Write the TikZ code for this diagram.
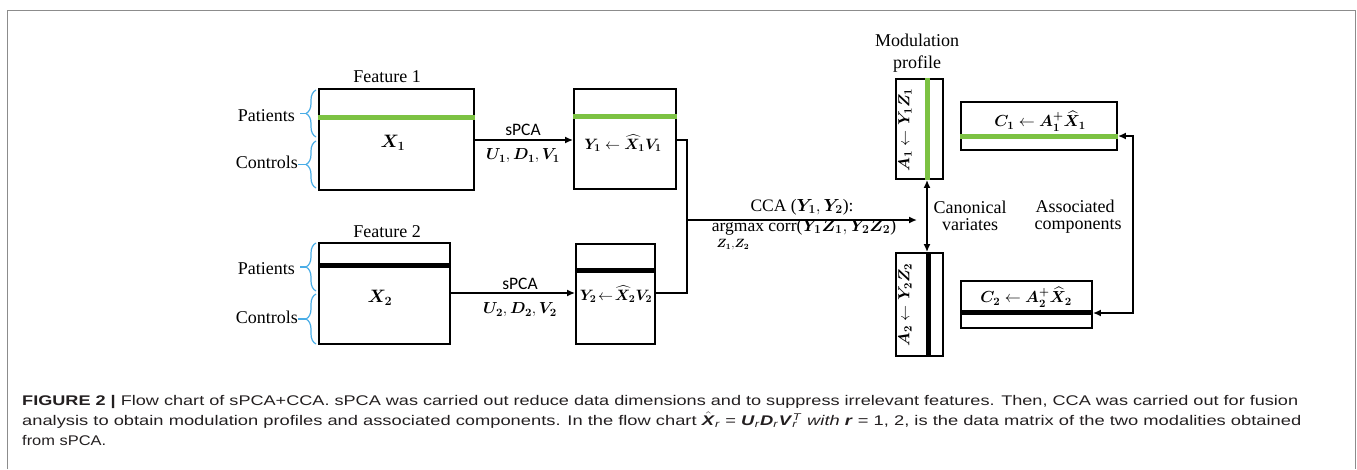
\RequirePackage{fix-cm}
\documentclass[tikz,border=0pt]{standalone}
\usepackage{amsmath}
\usepackage{bm}
\usepackage{graphicx}
\usepackage{fontspec}
\setmainfont{Liberation Serif}
\newfontfamily\capfont{Liberation Sans}
\newfontfamily\spcafont{Carlito}
\usetikzlibrary{arrows.meta,decorations.pathreplacing,calc}
\definecolor{bargreen}{HTML}{7CC243}
\definecolor{braceblue}{HTML}{4AADE6}
\definecolor{framegray}{HTML}{8C8C8C}
\definecolor{captext}{HTML}{231F20}
\begin{document}
\begin{tikzpicture}[x=1pt,y=-1pt,
  box/.style={draw, line width=1.8pt, inner sep=0pt},
  gbar/.style={bargreen, line width=5pt},
  kbar/.style={black, line width=5pt},
  conn/.style={line width=1.6pt},
  onearr/.style={-{Latex[length=8pt,width=7pt]}},
  twoarr/.style={{Latex[length=8pt,width=7pt]}-{Latex[length=8pt,width=7pt]}},
  lbl/.style={font=\fontsize{18}{20}\selectfont, inner sep=0pt},
  mth/.style={font=\fontsize{16}{18}\selectfont, inner sep=0pt},
  spca/.style={font=\spcafont\fontsize{17.5}{19}\selectfont, inner sep=0pt},
  bracestyle/.style={braceblue, line width=1.2pt, decorate, decoration={brace, amplitude=10pt}},
  brtick/.style={braceblue, line width=1.2pt},
  captxt/.style={font=\capfont\fontsize{14}{16}\selectfont, text=captext, inner sep=0pt, anchor=base west}]
\useasboundingbox (0,0) rectangle (1357,469);
% frame
\draw[framegray, line width=1.5pt] (7.5,469) -- (7.5,10.5) -- (1355.5,10.5) -- (1355.5,469);

% boxes
\node[box, minimum width=155pt, minimum height=101pt] (x1) at (396.5,139.5) {};
\node[box, minimum width=131pt, minimum height=101pt] (x2) at (384.5,293.5) {};
\node[box, minimum width=102pt, minimum height=100pt] (y1) at (625,139) {};
\node[box, minimum width=79pt, minimum height=100pt] (y2) at (615.5,294) {};
\node[box, minimum width=47pt, minimum height=100pt] (a1) at (919.5,129) {};
\node[box, minimum width=47pt, minimum height=103pt] (a2) at (919.5,304.5) {};
\node[box, minimum width=156pt, minimum height=48pt] (c1) at (1039,126) {};
\node[box, minimum width=131pt, minimum height=47pt] (c2) at (1026.5,304.5) {};

% bars
\draw[gbar] (x1.west |- 0,117) -- (x1.east |- 0,117);
\draw[gbar] (y1.west |- 0,116) -- (y1.east |- 0,116);
\draw[kbar] (x2.west |- 0,265) -- (x2.east |- 0,265);
\draw[kbar] (y2.west |- 0,270) -- (y2.east |- 0,270);
\draw[gbar] (a1.north -| 927,0) -- (a1.south -| 927,0);
\draw[kbar] (a2.north -| 928,0) -- (a2.south -| 928,0);
\draw[gbar] (c1.west |- 0,136) -- (c1.east |- 0,136);
\draw[kbar] (c2.west |- 0,312) -- (c2.east |- 0,312);

% labels left
\node[lbl, anchor=base] (f1) at (387,82.5) {Feature 1};
\node[lbl, anchor=base] (f2) at (387,237) {Feature 2};
\node[lbl, anchor=base east] (pat1) at (295,121.5) {Patients};
\node[lbl, anchor=base east] (con1) at (298,168) {Controls};
\node[lbl, anchor=base east] (pat2) at (295,274) {Patients};
\node[lbl, anchor=base east] (con2) at (298,323) {Controls};

% braces
\draw[bracestyle] (316,137) -- (316,90);
\draw[brtick] (300,113.5) -- (306,113.5);
\draw[bracestyle] (316,188) -- (316,141);
\draw[brtick] (298,164.5) -- (306,164.5);
\draw[bracestyle] (316,291) -- (316,243);
\draw[brtick] (300,267) -- (306,267);
\draw[bracestyle] (316,344) -- (316,294);
\draw[brtick] (298,319) -- (306,319);

% box texts
\node[mth, font=\fontsize{18}{20}\selectfont] (x1l) at (393,143) {$\bm{X_1}$};
\node[mth, font=\fontsize{18}{20}\selectfont] (x2l) at (380,298) {$\bm{X_2}$};
\node[mth, font=\fontsize{15}{17}\selectfont] (y1l) at (623,143) {$\bm{Y_1}\leftarrow\bm{\widehat{X}_1V_1}$};
\node[mth, font=\fontsize{15}{17}\selectfont] (y2l) at (616,294) {$\bm{Y_2}\!\leftarrow\!\bm{\widehat{X}_2V_2}$};
\node[mth, rotate=90] (a1l) at (905,130) {$\bm{A_1}\leftarrow\bm{Y_1Z_1}$};
\node[mth, rotate=90] (a2l) at (905,305) {$\bm{A_2}\leftarrow\bm{Y_2Z_2}$};
\node[mth] (c1l) at (1040,121) {$\bm{C_1}\leftarrow\bm{A_1^{+}\widehat{X}_1}$};
\node[mth] (c2l) at (1026,297) {$\bm{C_2}\leftarrow\bm{A_2^{+}\widehat{X}_2}$};

% sPCA arrows
\draw[conn, onearr] (x1.east |- 0,140) -- (y1.west |- 0,140);
\node[spca] (s1) at (523,130) {sPCA};
\node[mth] (u1) at (523,156) {$\bm{U_1},\bm{D_1},\bm{V_1}$};
\draw[conn, onearr] (x2.east |- 0,293) -- (y2.west |- 0,293);
\node[spca] (s2) at (520,284) {sPCA};
\node[mth] (u2) at (520,310) {$\bm{U_2},\bm{D_2},\bm{V_2}$};

% join and CCA arrow
\coordinate (j) at (687,220);
\coordinate (ccaend) at (917,220);
\draw[conn] (y1.east |- 0,140) -| (j);
\draw[conn] (y2.east |- 0,293) -| (j);
\draw[conn, onearr] (j) -- (ccaend);
\node[lbl, anchor=base, font=\fontsize{17.5}{19}\selectfont] (cca1) at (802,211) {CCA ($\bm{Y_1},\bm{Y_2}$):};
\node[lbl, anchor=base, font=\fontsize{17.5}{19}\selectfont] (cca2) at (804,231) {argmax corr($\bm{Y_1Z_1},\bm{Y_2Z_2}$)};
\node[mth, font=\fontsize{12}{14}\selectfont] (zz) at (733,245) {$\bm{Z_1}{,}\bm{Z_2}$};

% modulation profile
\node[lbl, anchor=base] (mod) at (917,46) {Modulation};
\node[lbl, anchor=base] (prof) at (917,68) {profile};

% canonical variates
\draw[conn, twoarr] (a1.south -| 927,0) -- (a2.north -| 927,0);
\node[lbl, anchor=base] (can) at (970,213) {Canonical};
\node[lbl, anchor=base] (var) at (970,230) {variates};

% associated components
\draw[conn, twoarr] (c1.east |- 0,136) -- ++(15,0) |- (c2.east |- 0,313);
\node[lbl, anchor=base] (ass) at (1075,212) {Associated};
\node[lbl, anchor=base] (comp) at (1078,229) {components};

% caption
\node[captxt] (cl1) at (22,405) {\resizebox{1276pt}{\height}{\textbf{FIGURE 2 |} Flow chart of sPCA+CCA. sPCA was carried out reduce data dimensions and to suppress irrelevant features. Then, CCA was carried out for fusion}};
\node[captxt] (cl2) at (22,425.5) {\resizebox{1279pt}{\height}{analysis to obtain modulation profiles and associated components. In the flow chart $\hat{\text{\textbf{\textit{X}}}}_{\text{\textit{r}}}$ = \textbf{\textit{U}}\textsubscript{\textit{r}}\textbf{\textit{D}}\textsubscript{\textit{r}}\textbf{\textit{V}}\textsubscript{\rlap{\textit{r}}}\textsuperscript{\textit{T}} \textit{with} \textbf{\textit{r}} = 1, 2, is the data matrix of the two modalities obtained}};
\node[captxt] (cl3) at (22,445) {\resizebox{84pt}{\height}{from sPCA.}};
\end{tikzpicture}
\end{document}
